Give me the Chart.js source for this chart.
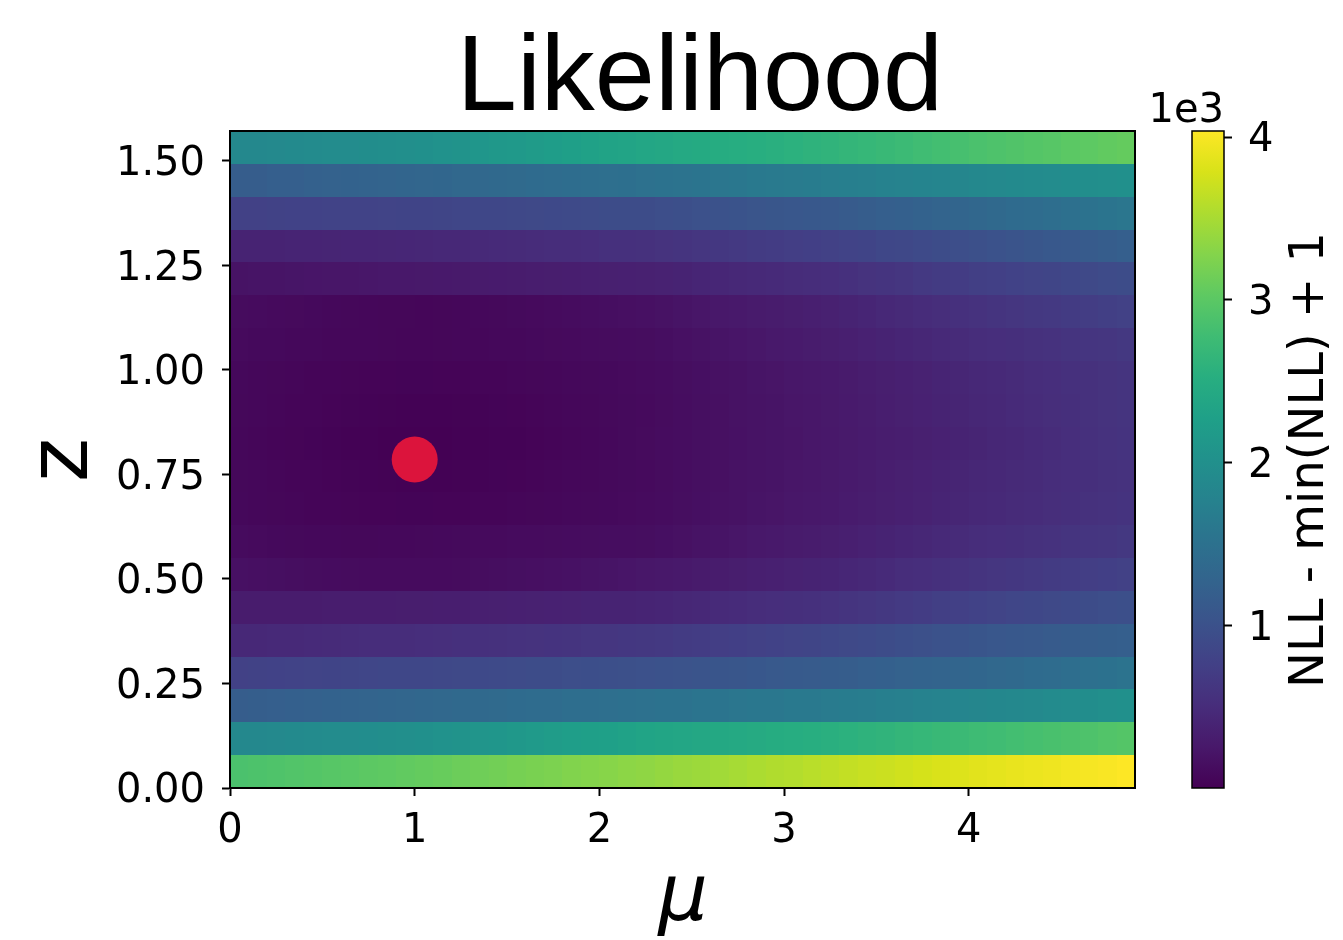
<!DOCTYPE html>
<html>
<head>
<meta charset="utf-8">
<script src="https://cdn.jsdelivr.net/npm/chart.js@4.4.0/dist/chart.umd.min.js"></script>
<style>
html, body { margin: 0; padding: 0; background: #fff; }
#wrap { position: relative; width: 1343px; height: 940px; overflow: hidden; }
#mainChart { position: absolute; left: 0; top: 0; }
#cbarChart { position: absolute; left: 1140px; top: 0; }
</style>
</head>
<body>
<div id="wrap">
    <canvas id="mainChart" width="1160" height="940"></canvas>
    <canvas id="cbarChart" width="203" height="940"></canvas>
</div>
<script>
// grid edges (mu columns, z rows)

var muEdges = [0.0, 0.1, 0.2, 0.3, 0.4, 0.5, 0.6, 0.7, 0.8, 0.9,
               1.0, 1.1, 1.2, 1.3, 1.4, 1.5, 1.6, 1.7, 1.8, 1.9,
               2.0, 2.1, 2.2, 2.3, 2.4, 2.5, 2.6, 2.7, 2.8, 2.9,
               3.0, 3.1, 3.2, 3.3, 3.4, 3.5, 3.6, 3.7, 3.8, 3.9,
               4.0, 4.1, 4.2, 4.3, 4.4, 4.5, 4.6, 4.7, 4.8, 4.9];
var zEdges = [0.0000, 0.0785, 0.1571, 0.2356, 0.3142, 0.3927, 0.4712, 0.5498, 0.6283, 0.7069,
              0.7854, 0.8639, 0.9425, 1.0210, 1.0996, 1.1781, 1.2566, 1.3352, 1.4137, 1.4923, 1.5708];

// NLL - min(NLL) + 1, one array per z row (bottom to top), one value per mu column

var row00 = [2870, 2890, 2910, 2930, 2950, 2970, 2990, 3010, 3030, 3050, 3070, 3090, 3120, 3140, 3160, 3190, 3210, 3230, 3260, 3280, 3300, 3330, 3350, 3380, 3410, 3430, 3460, 3490, 3520, 3550, 3570, 3600, 3630, 3660, 3690, 3710, 3740, 3770, 3800, 3820, 3850, 3870, 3900, 3920, 3940, 3970, 3990, 4010, 4037];
var row01 = [1860, 1870, 1880, 1900, 1910, 1930, 1940, 1950, 1970, 1990, 2000, 2030, 2060, 2080, 2110, 2140, 2170, 2200, 2230, 2260, 2280, 2310, 2340, 2360, 2380, 2400, 2420, 2440, 2460, 2480, 2500, 2520, 2540, 2570, 2600, 2620, 2650, 2680, 2710, 2730, 2760, 2780, 2810, 2830, 2860, 2880, 2900, 2930, 2950];
var row02 = [1170, 1190, 1200, 1220, 1230, 1250, 1270, 1280, 1300, 1310, 1330, 1340, 1360, 1370, 1380, 1400, 1410, 1420, 1440, 1450, 1460, 1480, 1490, 1510, 1520, 1540, 1550, 1570, 1590, 1600, 1620, 1630, 1650, 1670, 1690, 1720, 1740, 1760, 1780, 1810, 1830, 1850, 1870, 1890, 1920, 1940, 1960, 1980, 2000];
var row03 = [770, 780, 790, 800, 810, 820, 830, 840, 850, 850, 860, 870, 880, 890, 900, 910, 920, 930, 950, 960, 970, 980, 990, 1010, 1020, 1040, 1060, 1070, 1090, 1110, 1130, 1140, 1160, 1180, 1200, 1220, 1240, 1260, 1280, 1300, 1320, 1350, 1370, 1400, 1420, 1450, 1480, 1500, 1530];
var row04 = [440, 450, 460, 460, 470, 480, 490, 500, 500, 510, 520, 530, 540, 550, 560, 570, 580, 590, 600, 620, 630, 640, 650, 670, 690, 710, 730, 750, 770, 790, 810, 830, 850, 880, 900, 930, 960, 980, 1010, 1030, 1060, 1080, 1100, 1120, 1140, 1160, 1170, 1190, 1210];
var row05 = [300, 300, 300, 305, 305, 310, 310, 315, 315, 320, 320, 325, 330, 340, 345, 350, 360, 365, 370, 380, 385, 390, 400, 415, 430, 450, 470, 485, 500, 520, 535, 550, 570, 600, 620, 650, 680, 710, 740, 760, 790, 810, 840, 860, 880, 900, 920, 950, 970];
var row06 = [170, 160, 150, 140, 130, 125, 120, 115, 110, 110, 110, 115, 120, 130, 140, 150, 160, 170, 180, 195, 210, 225, 240, 255, 270, 290, 305, 320, 335, 350, 370, 385, 400, 425, 450, 475, 500, 525, 550, 575, 600, 620, 640, 665, 685, 705, 725, 750, 770];
var row07 = [110, 100, 92, 85, 80, 76, 74, 74, 76, 80, 85, 90, 95, 100, 105, 110, 115, 120, 125, 130, 135, 138, 140, 158, 176, 194, 212, 230, 248, 266, 284, 302, 320, 342, 365, 387, 410, 432, 455, 477, 500, 519, 538, 556, 575, 594, 612, 631, 650];
var row08 = [80, 72, 64, 56, 50, 44, 40, 36, 33, 31, 30, 33, 38, 44, 50, 57, 64, 71, 78, 86, 94, 102, 110, 126, 142, 158, 174, 190, 206, 222, 238, 254, 270, 291, 312, 334, 355, 376, 398, 419, 440, 459, 478, 496, 515, 534, 552, 571, 590];
var row09 = [75, 66, 57, 49, 42, 35, 29, 23, 18, 13, 10, 13, 18, 24, 31, 39, 47, 56, 65, 75, 85, 95, 105, 120, 136, 151, 167, 182, 198, 213, 229, 244, 260, 281, 302, 324, 345, 366, 388, 409, 430, 448, 465, 483, 500, 518, 535, 553, 570];
var row10 = [70, 60, 50, 41, 32, 24, 17, 11, 6, 3, 1, 3, 7, 13, 20, 28, 37, 47, 58, 70, 82, 95, 108, 122, 137, 151, 166, 180, 195, 209, 224, 238, 253, 272, 291, 310, 329, 348, 367, 386, 405, 428, 451, 474, 497, 521, 544, 567, 590];
var row11 = [75, 66, 57, 49, 42, 35, 29, 23, 18, 14, 10, 13, 18, 24, 31, 39, 47, 56, 65, 75, 85, 95, 105, 120, 136, 151, 167, 182, 198, 213, 229, 244, 260, 281, 302, 324, 345, 366, 388, 409, 430, 451, 472, 494, 515, 536, 558, 579, 600];
var row12 = [80, 72, 64, 56, 50, 44, 40, 36, 33, 31, 30, 33, 38, 44, 50, 57, 64, 71, 78, 86, 94, 102, 110, 126, 142, 158, 174, 190, 206, 222, 238, 254, 265, 288, 310, 332, 354, 376, 398, 419, 440, 460, 480, 500, 520, 540, 560, 580, 600];
var row13 = [100, 94, 88, 82, 77, 72, 68, 65, 62, 61, 60, 62, 66, 71, 77, 83, 89, 96, 103, 110, 117, 124, 130, 149, 168, 187, 206, 225, 244, 263, 282, 301, 320, 342, 365, 387, 410, 432, 455, 477, 500, 519, 538, 556, 575, 594, 612, 631, 650];
var row14 = [120, 112, 104, 96, 88, 80, 74, 68, 64, 62, 60, 64, 70, 78, 86, 95, 105, 115, 125, 135, 148, 160, 170, 190, 210, 230, 250, 265, 285, 305, 320, 340, 360, 385, 410, 440, 465, 490, 515, 545, 570, 595, 620, 645, 670, 695, 720, 745, 770];
var row15 = [200, 205, 210, 220, 225, 230, 235, 240, 250, 255, 260, 270, 275, 285, 295, 300, 310, 320, 325, 335, 345, 350, 360, 375, 390, 410, 425, 440, 455, 470, 490, 505, 520, 550, 580, 600, 630, 660, 690, 710, 740, 760, 790, 810, 830, 860, 880, 910, 930];
var row16 = [380, 385, 390, 395, 400, 405, 410, 415, 420, 425, 430, 440, 450, 460, 470, 480, 490, 500, 510, 520, 540, 550, 560, 580, 600, 620, 640, 660, 690, 710, 730, 750, 770, 800, 820, 850, 870, 900, 930, 950, 980, 1010, 1040, 1070, 1100, 1120, 1150, 1180, 1210];
var row17 = [770, 775, 780, 785, 790, 795, 800, 805, 810, 815, 820, 830, 840, 850, 860, 870, 880, 890, 900, 910, 920, 925, 930, 950, 970, 990, 1010, 1030, 1050, 1070, 1080, 1100, 1120, 1150, 1170, 1200, 1220, 1250, 1280, 1300, 1330, 1360, 1390, 1420, 1450, 1480, 1510, 1540, 1570];
var row18 = [1170, 1180, 1200, 1210, 1230, 1240, 1250, 1270, 1280, 1300, 1310, 1320, 1340, 1350, 1370, 1380, 1400, 1410, 1430, 1440, 1460, 1470, 1490, 1510, 1530, 1550, 1570, 1600, 1620, 1640, 1660, 1680, 1700, 1720, 1740, 1760, 1780, 1800, 1820, 1840, 1860, 1880, 1900, 1910, 1930, 1950, 1970, 1980, 2000];
var row19 = [1860, 1870, 1890, 1900, 1920, 1930, 1940, 1960, 1970, 1990, 2000, 2030, 2060, 2100, 2130, 2160, 2190, 2220, 2250, 2290, 2320, 2350, 2380, 2400, 2430, 2450, 2480, 2500, 2520, 2550, 2570, 2600, 2620, 2650, 2680, 2710, 2740, 2780, 2810, 2840, 2870, 2900, 2920, 2950, 2970, 3000, 3020, 3050, 3070];

var nllRows = [row00, row01, row02, row03, row04, row05, row06, row07, row08, row09,
               row10, row11, row12, row13, row14, row15, row16, row17, row18, row19];

// true parameter marker
var bestMu = 1.0;
var bestZ = 0.7854;

// ticks
var muTicks = [0, 1, 2, 3, 4];
var muTickLabels = ["0", "1", "2", "3", "4"];
var zTicks = [0, 0.25, 0.5, 0.75, 1.0, 1.25, 1.5];
var zTickLabels = ["0.00", "0.25", "0.50", "0.75", "1.00", "1.25", "1.50"];
var cbarTicks = [1000, 2000, 3000, 4000];
var cbarTickLabels = ["1", "2", "3", "4"];

var vMin = 1;
var vMax = 4037;

// viridis colormap

var viridisStops = ["#440154", "#48186a", "#472d7b", "#424086", "#3b528b", "#33638d", "#2c728e", "#26828e",
                    "#21918c", "#1fa088", "#28ae80", "#3fbc73", "#5ec962", "#84d44b", "#addc30", "#d8e219", "#fde725"];

function hexToRgb(h)
{
    return [parseInt(h.substr(1, 2), 16), parseInt(h.substr(3, 2), 16), parseInt(h.substr(5, 2), 16)];
}

function viridis(t)
{
    if(t < 0) t = 0;
    if(t > 1) t = 1;
    var pos = t * (viridisStops.length - 1);
    var i = Math.min(Math.floor(pos), viridisStops.length - 2);
    var f = pos - i;
    var a = hexToRgb(viridisStops[i]);
    var b = hexToRgb(viridisStops[i + 1]);
    return "rgb(" + Math.round(a[0] + (b[0] - a[0]) * f) + "," +
                    Math.round(a[1] + (b[1] - a[1]) * f) + "," +
                    Math.round(a[2] + (b[2] - a[2]) * f) + ")";
}

// plugins

var heatmapPlugin = {
    id: "heatmap",
    beforeDatasetsDraw: function(chart) {
        var ctx = chart.ctx;
        var xs = chart.scales.x;
        var ys = chart.scales.y;
        ctx.save();
        for (var r = 0; r < nllRows.length; r++) {
            var yBot = Math.round(ys.getPixelForValue(zEdges[r]));
            var yTop = Math.round(ys.getPixelForValue(zEdges[r + 1]));
            for (var c = 0; c < nllRows[r].length; c++) {
                var xL = Math.round(xs.getPixelForValue(muEdges[c]));
                var xR = Math.round(xs.getPixelForValue(muEdges[c + 1]));
                ctx.fillStyle = viridis((nllRows[r][c] - vMin) / (vMax - vMin));
                ctx.fillRect(xL, yTop, xR - xL, yBot - yTop);
            }
        }
        ctx.restore();
    },
    afterDatasetsDraw: function(chart) {
        var ctx = chart.ctx;
        var a = chart.chartArea;
        ctx.save();
        ctx.strokeStyle = "#000";
        ctx.lineWidth = 2;
        ctx.strokeRect(a.left, a.top, a.right - a.left, a.bottom - a.top);
        ctx.restore();
    }
};

var labelsPlugin = {
    id: "labels",
    afterDraw: function(chart) {
        var ctx = chart.ctx;
        ctx.save();
        ctx.fillStyle = "#000";

        ctx.font = "300 108px 'Liberation Sans', 'Helvetica Neue', Arial, sans-serif";
        ctx.textAlign = "center";
        ctx.textBaseline = "alphabetic";
        ctx.fillText("Likelihood", 700, 110);

        ctx.font = "italic 78px 'DejaVu Sans', sans-serif";
        ctx.fillText("\u03bc", 683, 920);

        ctx.translate(87, 460);
        ctx.rotate(-Math.PI / 2);
        ctx.font = "84px 'DejaVu Sans', sans-serif";
        ctx.fillText("z", 0, 0);
        ctx.restore();
    }
};

var cbarPlugin = {
    id: "cbar",
    beforeDatasetsDraw: function(chart) {
        var ctx = chart.ctx;
        var a = chart.chartArea;
        var ys = chart.scales.y;
        var g = ctx.createLinearGradient(0, ys.getPixelForValue(vMin), 0, ys.getPixelForValue(vMax));
        for (var i = 0; i < viridisStops.length; i++) {
            g.addColorStop(i / (viridisStops.length - 1), viridisStops[i]);
        }
        ctx.save();
        ctx.fillStyle = g;
        ctx.fillRect(a.left, a.top, a.right - a.left, a.bottom - a.top);
        ctx.strokeStyle = "#000";
        ctx.lineWidth = 1.5;
        ctx.strokeRect(a.left, a.top, a.right - a.left, a.bottom - a.top);
        ctx.restore();
    },
    afterDraw: function(chart) {
        var ctx = chart.ctx;
        var a = chart.chartArea;
        ctx.save();
        ctx.fillStyle = "#000";
        ctx.font = "40px 'DejaVu Sans', sans-serif";
        ctx.textAlign = "right";
        ctx.textBaseline = "alphabetic";
        ctx.fillText("1e3", a.right, 122);

        ctx.translate(171, 460);
        ctx.rotate(-Math.PI / 2);
        ctx.font = "48px 'DejaVu Sans', sans-serif";
        ctx.textAlign = "center";
        ctx.textBaseline = "middle";
        ctx.fillText("NLL - min(NLL) + 1", 0, 0);
        ctx.restore();
    }
};

// set up

var tickFont = { family: "'DejaVu Sans', sans-serif", size: 40 };

function loadCharts()
{
    new Chart(document.getElementById("mainChart").getContext("2d"), {
        type: "scatter",
        data: {
            datasets: [{
                data: [{ x: bestMu, y: bestZ }],
                pointRadius: 23,
                pointHoverRadius: 23,
                backgroundColor: "#dc143c",
                borderWidth: 0
            }]
        },
        options: {
            responsive: false,
            animation: false,
            devicePixelRatio: 1,
            events: [],
            layout: { padding: { left: 0, top: 131, right: 25, bottom: 0 } },
            plugins: { legend: { display: false }, tooltip: { enabled: false } },
            scales: {
                x: {
                    type: "linear",
                    min: muEdges[0],
                    max: muEdges[muEdges.length - 1],
                    afterBuildTicks: function(axis) { axis.ticks = muTicks.map(function(v) { return { value: v }; }); },
                    afterFit: function(axis) { axis.height = 152; },
                    ticks: {
                        autoSkip: false,
                        maxRotation: 0,
                        padding: 12,
                        color: "#000",
                        font: tickFont,
                        callback: function(v, i) { return muTickLabels[i]; }
                    },
                    grid: { drawOnChartArea: false, drawTicks: true, tickLength: 8, tickWidth: 2, tickColor: "#000" },
                    border: { display: true, color: "#000", width: 2 }
                },
                y: {
                    type: "linear",
                    min: zEdges[0],
                    max: zEdges[zEdges.length - 1],
                    afterBuildTicks: function(axis) { axis.ticks = zTicks.map(function(v) { return { value: v }; }); },
                    afterFit: function(axis) { axis.width = 230; },
                    ticks: {
                        autoSkip: false,
                        padding: 17,
                        labelOffset: 4,
                        color: "#000",
                        font: tickFont,
                        callback: function(v, i) { return zTickLabels[i]; }
                    },
                    grid: { drawOnChartArea: false, drawTicks: true, tickLength: 8, tickWidth: 2, tickColor: "#000" },
                    border: { display: true, color: "#000", width: 2 }
                }
            }
        },
        plugins: [heatmapPlugin, labelsPlugin]
    });

    new Chart(document.getElementById("cbarChart").getContext("2d"), {
        type: "scatter",
        data: { datasets: [] },
        options: {
            responsive: false,
            animation: false,
            devicePixelRatio: 1,
            events: [],
            layout: { padding: { left: 52, top: 131, right: 0, bottom: 152 } },
            plugins: { legend: { display: false }, tooltip: { enabled: false } },
            scales: {
                x: { display: false, min: 0, max: 1 },
                y: {
                    type: "linear",
                    position: "right",
                    min: vMin,
                    max: vMax,
                    afterBuildTicks: function(axis) { axis.ticks = cbarTicks.map(function(v) { return { value: v }; }); },
                    afterFit: function(axis) { axis.width = 119; },
                    ticks: {
                        autoSkip: false,
                        padding: 16,
                        labelOffset: 4,
                        color: "#000",
                        font: tickFont,
                        callback: function(v, i) { return cbarTickLabels[i]; }
                    },
                    grid: { drawOnChartArea: false, drawTicks: true, tickLength: 8, tickWidth: 2, tickColor: "#000" },
                    border: { display: false }
                }
            }
        },
        plugins: [cbarPlugin]
    });
}

loadCharts();
</script>
</body>
</html>
